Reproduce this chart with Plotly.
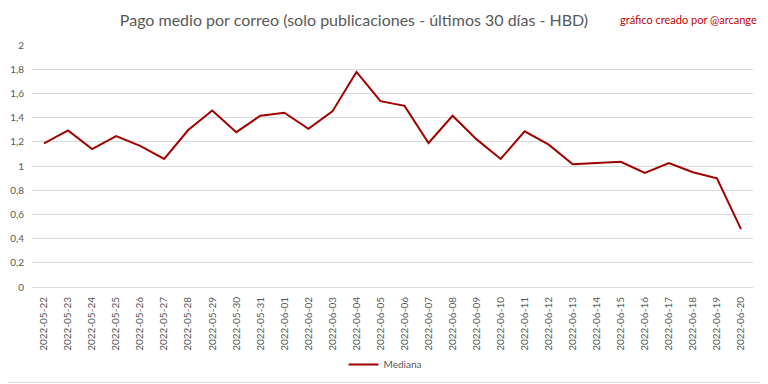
import plotly.graph_objects as go

dates = ["2022-05-22", "2022-05-23", "2022-05-24", "2022-05-25", "2022-05-26", "2022-05-27",
         "2022-05-28", "2022-05-29", "2022-05-30", "2022-05-31", "2022-06-01", "2022-06-02",
         "2022-06-03", "2022-06-04", "2022-06-05", "2022-06-06", "2022-06-07", "2022-06-08",
         "2022-06-09", "2022-06-10", "2022-06-11", "2022-06-12", "2022-06-13", "2022-06-14",
         "2022-06-15", "2022-06-16", "2022-06-17", "2022-06-18", "2022-06-19", "2022-06-20"]
mediana = [1.187, 1.294, 1.140, 1.247, 1.167, 1.058, 1.297, 1.459, 1.280, 1.415, 1.440, 1.308,
           1.451, 1.778, 1.536, 1.497, 1.190, 1.415, 1.220, 1.058, 1.286, 1.176, 1.014, 1.027,
           1.035, 0.942, 1.025, 0.948, 0.898, 0.478]
y_ticks = [0, 0.2, 0.4, 0.6, 0.8, 1, 1.2, 1.4, 1.6, 1.8, 2]
y_labels = ["0", "0,2", "0,4", "0,6", "0,8", "1", "1,2", "1,4", "1,6", "1,8", "2"]

title_text = "Pago medio por correo (solo publicaciones - últimos 30 días - HBD)"
credit_text = "gráfico creado por @arcange"
series_name = "Mediana"

# The page body has an 8px default margin, so the figure is 760x376 and
# all positions are expressed in figure pixels (screen pixels minus 8).
OFF = 8
W, H = 768 - OFF, 384 - OFF
L, R, T, B = 24, 15, 36.7, 96.7
pw = W - L - R
ph = H - T - B

def px_x(x):
    return (x - OFF - L) / pw

def px_y(y):
    return (H - B - (y - OFF)) / ph

fig = go.Figure()
fig.add_trace(go.Scatter(
    x=dates, y=mediana, mode="lines", name=series_name,
    line=dict(color="#A00000", width=2),
))

fig.update_layout(
    width=W, height=H,
    margin=dict(l=L, r=R, t=T, b=B, autoexpand=False),
    paper_bgcolor="white", plot_bgcolor="white",
    separators=",.",
    font=dict(family="Lato, Open Sans, sans-serif", color="#595959"),
    title=dict(text=title_text, x=(354 - OFF) / W, xanchor="center",
               y=1 - (20 - OFF) / H, yanchor="middle",
               yref="container", xref="container", automargin=False,
               font=dict(size=16, color="#595959", family="Lato, sans-serif")),
    showlegend=True,
    legend=dict(orientation="h", x=px_x(385), xanchor="center", y=px_y(365), yanchor="middle",
                font=dict(size=10, color="#595959"), bgcolor="rgba(0,0,0,0)"),
    xaxis=dict(type="category", range=[-0.5, len(dates) - 0.5], tickangle=-90,
               showgrid=False, zeroline=False, showline=False, automargin=False,
               ticks="outside", ticklen=5, tickcolor="rgba(0,0,0,0)",
               tickfont=dict(size=10, color="#595959")),
    yaxis=dict(range=[0, 2], tickvals=y_ticks, ticktext=y_labels, showgrid=True,
               gridcolor="#D9D9D9", gridwidth=1, zeroline=True, zerolinecolor="#D9D9D9",
               zerolinewidth=1, showline=False, automargin=False,
               ticks="outside", ticklen=5, tickcolor="rgba(0,0,0,0)",
               tickfont=dict(size=10, color="#595959")),
)

fig.add_annotation(text=credit_text, xref="paper", yref="paper", x=px_x(759), xanchor="right",
                   y=px_y(19), yanchor="middle", showarrow=False,
                   font=dict(size=11, color="#C00000", family="Lato, sans-serif"))

# chart-area border (right and bottom edges fall inside the figure)
fig.add_shape(type="line", xref="paper", yref="paper",
              x0=px_x(764.5), x1=px_x(764.5), y0=px_y(383), y1=px_y(OFF),
              line=dict(color="#D9D9D9", width=1), layer="below")
fig.add_shape(type="line", xref="paper", yref="paper",
              x0=px_x(OFF), x1=px_x(764.5), y0=px_y(383), y1=px_y(383),
              line=dict(color="#D9D9D9", width=1), layer="below")

fig.write_html("out.html")
